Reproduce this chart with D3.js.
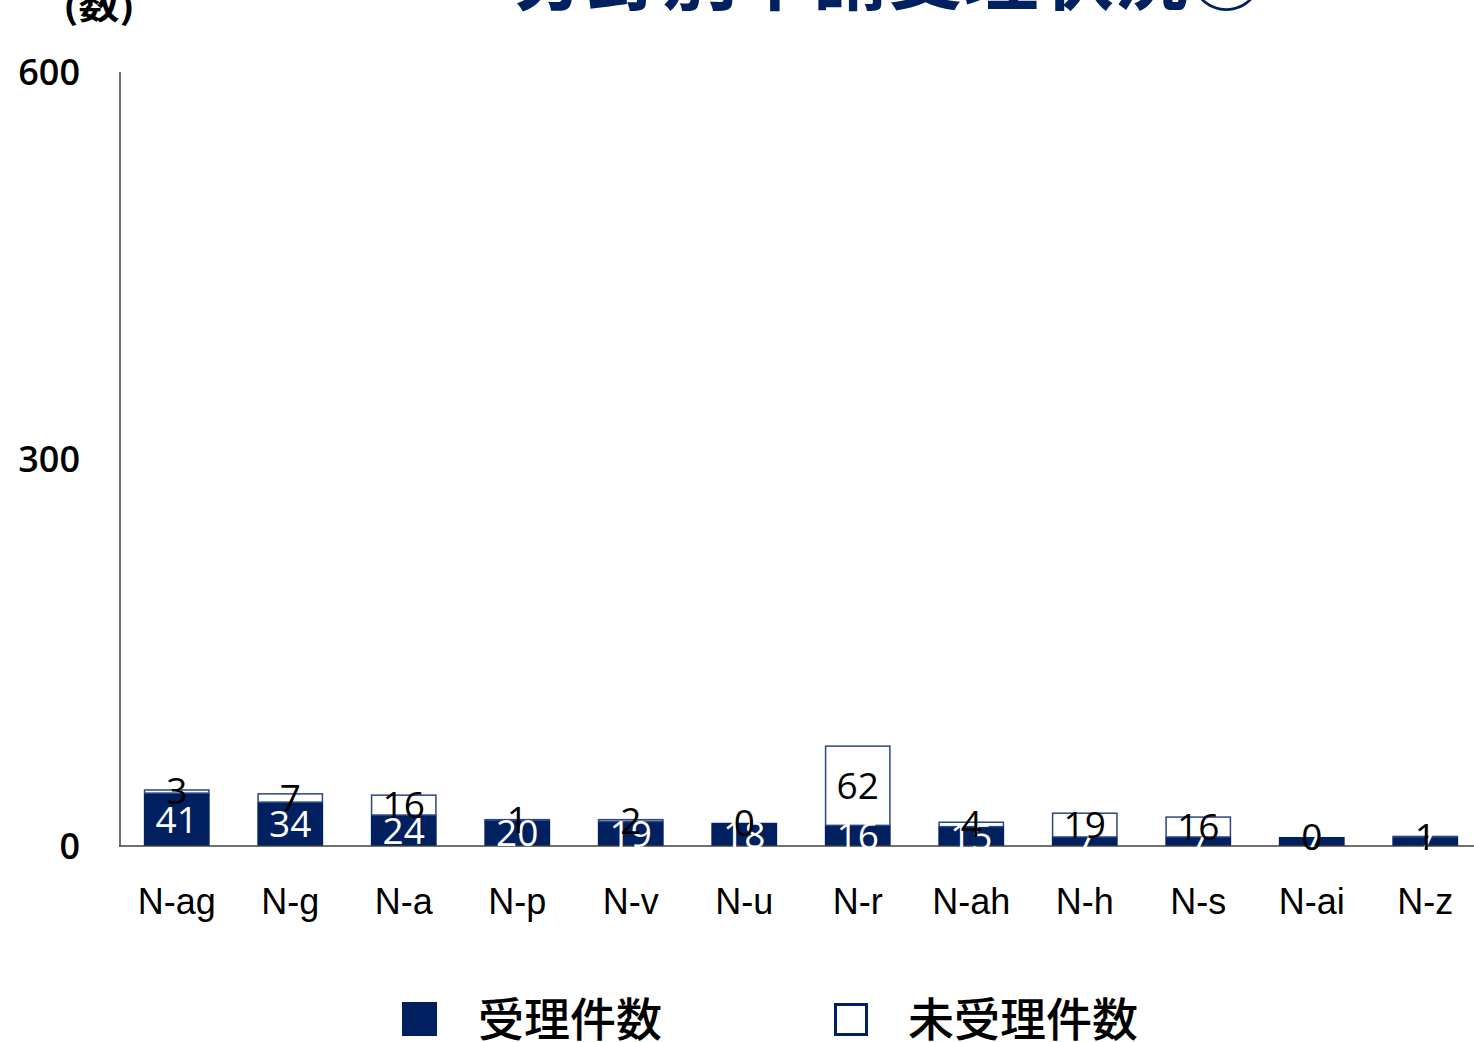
<!DOCTYPE html>
<html>
<head>
<meta charset="utf-8">
<script src="https://cdn.jsdelivr.net/npm/d3@7/dist/d3.min.js"></script>
<style>
  html, body { margin: 0; padding: 0; background: #fff; }
  svg { display: block; }
</style>
</head>
<body>
<script>
// Categories and stacked series
const categories = ["N-ag", "N-g", "N-a", "N-p", "N-v", "N-u", "N-r", "N-ah", "N-h", "N-s", "N-ai", "N-z"];
const accepted   = [41, 34, 24, 20, 19, 18, 16, 15, 7, 7, 7, 7];
const unaccepted = [3, 7, 16, 1, 2, 0, 62, 4, 19, 16, 0, 1];
const yTicks = [0, 300, 600];
const seriesNames = ["受理件数", "未受理件数"];
const titleText = "分野別申請受理状況②";
const unitText = "(数)";

const W = 1474, H = 1042;
const NAVY = "#002060";

const svg = d3.select("body").append("svg")
  .attr("width", W).attr("height", H);

const x = d3.scaleBand().domain(categories).range([120, 1482]).paddingInner(0.42).paddingOuter(0.21);
const y = d3.scaleLinear().domain([0, 600]).range([846, 72]);

// Title (runs off the top edge)
svg.append("text")
  .attr("x", 512).attr("y", 4)
  .attr("font-family", "Noto Sans CJK JP")
  .attr("font-weight", 700)
  .attr("font-size", 75)
  .attr("fill", NAVY)
  .attr("textLength", 752)
  .attr("lengthAdjust", "spacingAndGlyphs")
  .text(titleText);

// Unit label
svg.append("text")
  .attr("x", 63).attr("y", 19)
  .attr("font-family", "Noto Sans CJK JP")
  .attr("font-size", 34)
  .attr("font-weight", 700)
  .attr("fill", "#000")
  .attr("textLength", 72)
  .attr("lengthAdjust", "spacingAndGlyphs")
  .text(unitText);

// Stacked data
const rows = categories.map((c, i) => ({ cat: c, accepted: accepted[i], unaccepted: unaccepted[i] }));
const stack = d3.stack().keys(["accepted", "unaccepted"])(rows);

// Bars
const g = svg.append("g");
g.selectAll("rect.acc").data(stack[0]).join("rect")
  .attr("x", d => x(d.data.cat))
  .attr("width", x.bandwidth())
  .attr("y", d => y(d[1]))
  .attr("height", d => y(d[0]) - y(d[1]))
  .attr("fill", NAVY);

g.selectAll("rect.un").data(stack[1].filter(d => d[1] > d[0])).join("rect")
  .attr("x", d => x(d.data.cat) + 0.75)
  .attr("width", x.bandwidth() - 1.5)
  .attr("y", d => y(d[1]) + 0.75)
  .attr("height", d => Math.max(0, y(d[0]) - y(d[1]) - 0.75))
  .attr("fill", "#fff")
  .attr("stroke", "#2c4584")
  .attr("stroke-width", 1.5);

// Axes lines
svg.append("line")
  .attr("x1", x.range()[0]).attr("x2", x.range()[0])
  .attr("y1", y(600)).attr("y2", y(0))
  .attr("stroke", "#404040").attr("stroke-width", 1.5);
svg.append("line")
  .attr("x1", x.range()[0] - 1).attr("x2", W)
  .attr("y1", y(0)).attr("y2", y(0))
  .attr("stroke", "#404040").attr("stroke-width", 1.5);

// Y tick labels
svg.selectAll("text.ytick").data(yTicks).join("text")
  .attr("x", 80)
  .attr("y", d => y(d))
  .attr("dy", "0.36em")
  .attr("text-anchor", "end")
  .attr("font-family", "Open Sans")
  .attr("font-weight", 600)
  .attr("font-size", 36)
  .attr("fill", "#000")
  .text(d => d);

// Category labels
svg.selectAll("text.cat").data(categories).join("text")
  .attr("x", d => x(d) + x.bandwidth() / 2)
  .attr("y", 914)
  .attr("text-anchor", "middle")
  .attr("font-family", "Liberation Sans")
  .attr("font-size", 36)
  .attr("fill", "#000")
  .text(d => d);

// Value labels, centred in each segment
const labelFont = { family: "Open Sans", size: 37 };
svg.selectAll("text.accLab").data(stack[0]).join("text")
  .attr("x", d => x(d.data.cat) + x.bandwidth() / 2)
  .attr("y", d => (y(d[0]) + y(d[1])) / 2)
  .attr("dy", "0.36em")
  .attr("text-anchor", "middle")
  .attr("font-family", labelFont.family)
  .attr("font-size", labelFont.size)
  .attr("fill", "#fff")
  .text(d => d.data.accepted);

svg.selectAll("text.unLab").data(stack[1]).join("text")
  .attr("x", d => x(d.data.cat) + x.bandwidth() / 2)
  .attr("y", d => (y(d[0]) + y(d[1])) / 2)
  .attr("dy", "0.36em")
  .attr("text-anchor", "middle")
  .attr("font-family", labelFont.family)
  .attr("font-size", labelFont.size)
  .attr("fill", "#000")
  .text(d => d.data.unaccepted);

// Legend
const legend = svg.append("g");
legend.append("rect")
  .attr("x", 402).attr("y", 1002).attr("width", 35).attr("height", 34)
  .attr("fill", NAVY);
legend.append("text")
  .attr("x", 478).attr("y", 1019)
  .attr("dy", "0.36em")
  .attr("font-family", "Noto Sans CJK JP")
  .attr("font-weight", 500)
  .attr("font-size", 46)
  .attr("fill", "#000")
  .text(seriesNames[0]);
legend.append("rect")
  .attr("x", 835.5).attr("y", 1004.5).attr("width", 31).attr("height", 30)
  .attr("fill", "#fff").attr("stroke", NAVY).attr("stroke-width", 3);
legend.append("text")
  .attr("x", 908).attr("y", 1019)
  .attr("dy", "0.36em")
  .attr("font-family", "Noto Sans CJK JP")
  .attr("font-weight", 500)
  .attr("font-size", 46)
  .attr("fill", "#000")
  .text(seriesNames[1]);
</script>
</body>
</html>
